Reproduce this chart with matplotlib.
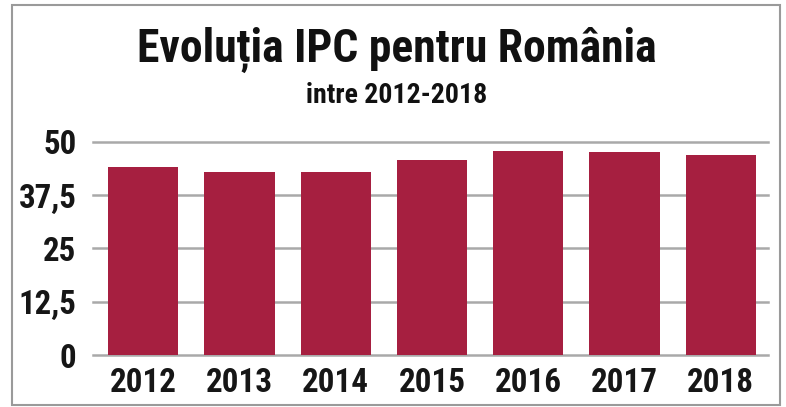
#importing the libraries
import matplotlib
matplotlib.use("Agg")
import matplotlib.pyplot as plt
from matplotlib import font_manager
from matplotlib.patches import Rectangle

#data
years = ["2012", "2013", "2014", "2015", "2016", "2017", "2018"]
ipc_values = [44.0, 42.9, 42.9, 45.8, 47.8, 47.5, 46.8]
y_ticks = [0, 12.5, 25, 37.5, 50]
y_tick_labels = ["0", "12,5", "25", "37,5", "50"]

title_text = "Evoluția IPC pentru România"
subtitle_text = "intre 2012-2018"

#pick a narrow bold font if one is installed
names = set(f.name for f in font_manager.fontManager.ttflist)
narrow = [n for n in ["Liberation Sans Narrow", "Roboto Condensed", "Open Sans Condensed"]
          if n in names]
plt.rcParams["font.family"] = narrow[:1] + ["DejaVu Sans"]

bar_color = "#a61f40"
grid_color = "#a9a9a9"
text_color = "#161616"


#scale the font size of a text so that it is `width` pixels wide
def fit_width(fig, txt, width):
    r = fig.canvas.get_renderer()
    w = txt.get_window_extent(r).width
    txt.set_fontsize(txt.get_fontsize() * width / w)
    return txt.get_fontsize()


def main():
    fig = plt.figure(figsize=(7.86, 4.07), dpi=100)

    #frame around the whole picture
    fig.patches.append(Rectangle((12 / 786, 2 / 407), 768 / 786, 400 / 407,
                                 transform=fig.transFigure, fill=False,
                                 edgecolor="#9a9a9a", linewidth=1.5))

    ax = fig.add_axes([93 / 786, 52 / 407, 675 / 786, 213.3 / 407])
    x = range(len(years))
    ax.bar(x, ipc_values, width=0.73, color=bar_color, zorder=3)

    ax.set_xlim(-0.52, 6.49)
    ax.set_ylim(0, 50)
    ax.set_yticks(y_ticks)
    ax.set_yticklabels(y_tick_labels)
    ax.set_xticks(list(x))
    ax.set_xticklabels(years)

    for v in y_ticks:
        ax.axhline(v, color=grid_color, linewidth=1.8, zorder=1, clip_on=False)

    for s in ax.spines.values():
        s.set_visible(False)
    ax.tick_params(length=0)
    ax.tick_params(axis="y", pad=12)
    ax.tick_params(axis="x", pad=9)

    #work out the sizes from the widths seen on the chart
    probe = fig.text(0, 0, "2012", fontsize=20, fontweight="bold")
    x_size = fit_width(fig, probe, 67)
    probe.set_text("37,5")
    probe.set_fontsize(20)
    y_size = fit_width(fig, probe, 58)
    probe.remove()

    for lab in ax.get_yticklabels():
        lab.set_fontsize(y_size)
        lab.set_fontweight("bold")
        lab.set_color(text_color)
    for lab in ax.get_xticklabels():
        lab.set_fontsize(x_size)
        lab.set_fontweight("bold")
        lab.set_color(text_color)

    title = fig.text(397 / 786, 1 - 62 / 407, title_text, ha="center", va="baseline",
                     fontsize=30, fontweight="bold", color="#111111")
    fit_width(fig, title, 520)
    sub = fig.text(397 / 786, 1 - 103 / 407, subtitle_text, ha="center", va="baseline",
                   fontsize=20, fontweight="bold", color="#111111")
    fit_width(fig, sub, 181)

    fig.savefig("out.png", dpi=100, facecolor="white")


if __name__ == "__main__":
    main()
